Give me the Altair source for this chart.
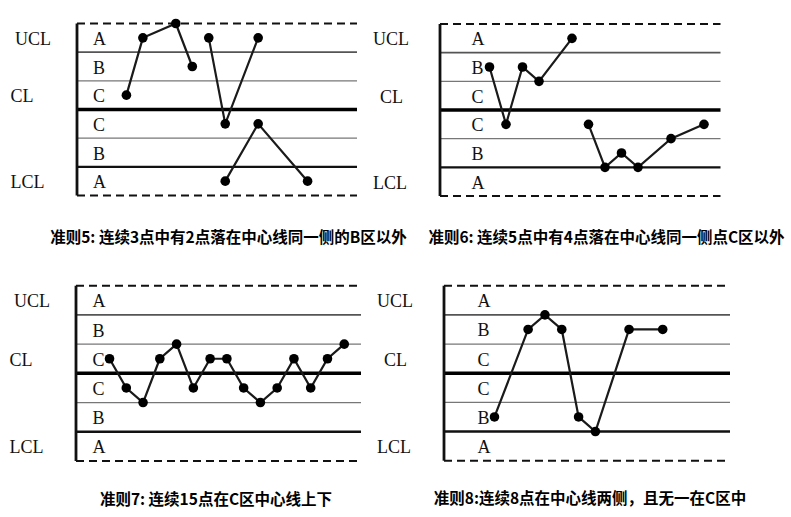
import altair as alt
import pandas as pd

# ---------------- data ----------------
titles = [
    "准则5: 连续3点中有2点落在中心线同一侧的B区以外",
    "准则6: 连续5点中有4点落在中心线同一侧点C区以外",
    "准则7: 连续15点在C区中心线上下",
    "准则8:连续8点在中心线两侧，且无一在C区中",
]

zone_names = ["A", "B", "C", "C", "B", "A"]
zone_levels = [2.5, 1.5, 0.5, -0.5, -1.5, -2.5]
limit_names = ["UCL", "CL", "LCL"]
limit_levels = [2.5, 0.5, -2.5]

# series: (segment id, x index, value in sigma units)
p1_seg = [1, 1, 1, 1, 2, 2, 2, 3, 3, 3]
p1_x = [3, 4, 6, 7, 8, 9, 11, 9, 11, 14]
p1_y = [0.5, 2.5, 3.0, 1.5, 2.5, -0.5, 2.5, -2.5, -0.5, -2.5]

p2_seg = [1, 1, 1, 1, 1, 2, 2, 2, 2, 2, 2]
p2_x = [3, 4, 5, 6, 8, 9, 10, 11, 12, 14, 16]
p2_y = [1.5, -0.5, 1.5, 1.0, 2.5, -0.5, -2.0, -1.5, -2.0, -1.0, -0.5]

p3_seg = [1] * 15
p3_x = [2, 3, 4, 5, 6, 7, 8, 9, 10, 11, 12, 13, 14, 15, 16]
p3_y = [0.5, -0.5, -1.0, 0.5, 1.0, -0.5, 0.5, 0.5, -0.5, -1.0, -0.5, 0.5, -0.5, 0.5, 1.0]

p4_seg = [1] * 8
p4_x = [3, 5, 6, 7, 8, 9, 11, 13]
p4_y = [-1.5, 1.5, 2.0, 1.5, -1.5, -2.0, 1.5, 1.5]

X_END = 17

# ---------------- layout ----------------
W, H = 385, 259
SERIF = "Liberation Serif"
SANS = "Noto Sans CJK SC"


def panel(seg, xs, ys, title, cell_x0, cell_y0, axis_px, right_px, top_px, bot_px,
          zone_off, label_offs, title_cx, title_cy):
    ux = (right_px - axis_px) / X_END
    uy = (bot_px - top_px) / 6.0
    xdom = [-(axis_px - cell_x0) / ux, (cell_x0 + W - axis_px) / ux]
    ydom = [-3 - (cell_y0 + H - bot_px) / uy, 3 + (top_px - cell_y0) / uy]
    xs_ = alt.Scale(domain=xdom, nice=False, zero=False)
    ys_ = alt.Scale(domain=ydom, nice=False, zero=False)

    pts = pd.DataFrame({"seg": seg, "x": xs, "y": ys})
    zones = pd.DataFrame({"name": zone_names, "y": zone_levels,
                          "x": [zone_off / ux] * 6})
    limits = pd.DataFrame({"name": limit_names, "y": limit_levels,
                           "x": [o / ux for o in label_offs]})

    def hrule(levels, **kw):
        d = pd.DataFrame({"y": levels, "x0": [0] * len(levels),
                          "x1": [X_END] * len(levels)})
        return alt.Chart(d).mark_rule(**kw).encode(
            y=alt.Y("y:Q", scale=ys_, axis=None),
            x=alt.X("x0:Q", scale=xs_, axis=None),
            x2="x1:Q",
        )

    dashed = hrule([3, -3], color="#111", strokeWidth=2, strokeDash=[8, 5])
    thin = hrule([1, -1], color="#777", strokeWidth=1.2)
    mid = hrule([2], color="#555", strokeWidth=1.6)
    lcl = hrule([-2], color="#111", strokeWidth=2.4)
    center = hrule([0], color="#000", strokeWidth=3.5)

    vaxis = alt.Chart(pd.DataFrame({"x": [0], "y0": [-3], "y1": [3]})).mark_rule(
        color="#111", strokeWidth=2.8).encode(
        x=alt.X("x:Q", scale=xs_, axis=None),
        y=alt.Y("y0:Q", scale=ys_, axis=None),
        y2="y1:Q",
    )

    lines = alt.Chart(pts).mark_line(color="#1a1a1a", strokeWidth=2.2).encode(
        x=alt.X("x:Q", scale=xs_, axis=None),
        y=alt.Y("y:Q", scale=ys_, axis=None),
        detail="seg:N",
        order="x:Q",
    )
    dots = alt.Chart(pts).mark_circle(color="#000", size=92, opacity=1).encode(
        x=alt.X("x:Q", scale=xs_, axis=None),
        y=alt.Y("y:Q", scale=ys_, axis=None),
    )

    ztext = alt.Chart(zones).mark_text(
        font=SERIF, fontSize=18, align="left", baseline="middle", dy=2,
        color="#111").encode(
        x=alt.X("x:Q", scale=xs_, axis=None),
        y=alt.Y("y:Q", scale=ys_, axis=None),
        text="name:N",
    )
    ltext = alt.Chart(limits).mark_text(
        font=SERIF, fontSize=18, align="center", baseline="middle", dy=2,
        color="#111").encode(
        x=alt.X("x:Q", scale=xs_, axis=None),
        y=alt.Y("y:Q", scale=ys_, axis=None),
        text="name:N",
    )
    ttext = alt.Chart(pd.DataFrame({"t": [title]})).mark_text(
        font=SANS, fontSize=15.5, fontWeight="bold", align="center",
        baseline="middle", color="#000").encode(
        x=alt.value(title_cx - cell_x0),
        y=alt.value(title_cy - cell_y0),
        text="t:N",
    )

    return alt.layer(thin, mid, lcl, dashed, center, vaxis, lines, dots,
                     ztext, ltext, ttext).properties(width=W, height=H)


offs_a = [-44, -55, -49.5]
offs_b = [-49, -48.5, -50]

c1 = panel(p1_seg, p1_x, p1_y, titles[0], 0, 0, 77, 357, 23.5, 195.5, 16, offs_a, 228.5, 238)
c2 = panel(p2_seg, p2_x, p2_y, titles[1], W, 0, 440, 720.5, 24, 196, 31.5, offs_b, 606.5, 238)
c3 = panel(p3_seg, p3_x, p3_y, titles[2], 0, H, 76, 361, 285.7, 461, 16.5, offs_a, 216, 500)
c4 = panel(p4_seg, p4_x, p4_y, titles[3], W, H, 444, 730, 285.7, 460.7, 33.5, offs_b, 590, 499)

chart = alt.concat(c1, c2, c3, c4, columns=2, spacing=0, bounds="flush").properties(
    padding=0, background="white"
).configure_view(stroke=None)

chart.save("out.html", embed_options={"renderer": "svg", "actions": False})
